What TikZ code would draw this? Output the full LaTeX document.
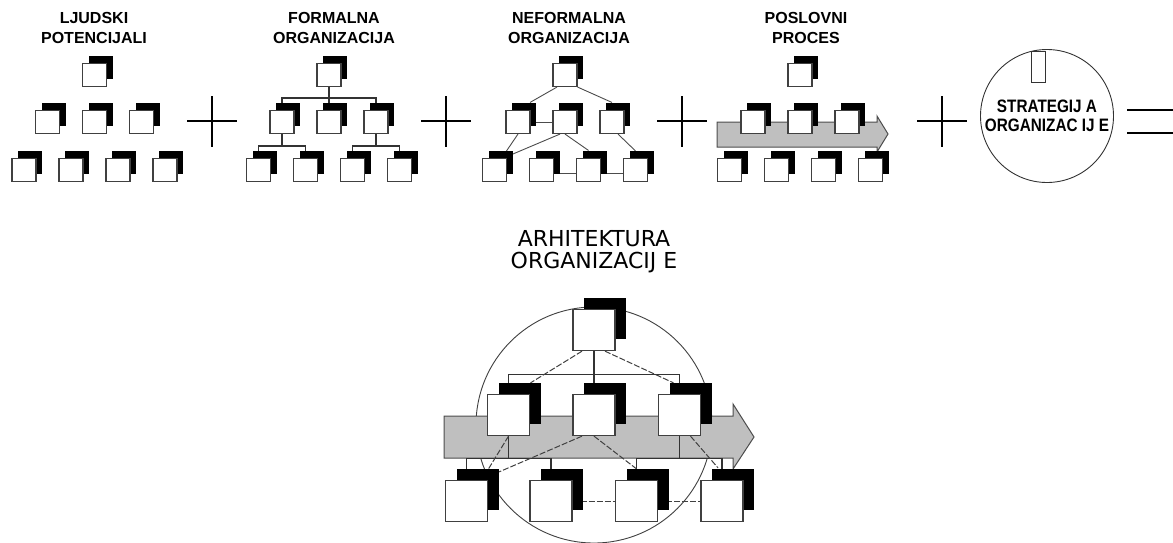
\documentclass[tikz,border=0pt]{standalone}
\usepackage{fontspec}
\usepackage{graphicx}
\setmainfont{Liberation Sans}
\newfontfamily\archfont{DejaVu Sans}
\usetikzlibrary{shadows,calc}
\pgfdeclarelayer{lcirc}
\pgfdeclarelayer{larrow}
\pgfdeclarelayer{llines}
\pgfsetlayers{lcirc,larrow,llines,main}
\tikzset{
 smallbox/.style={rectangle, draw=black!75, line width=1.1pt, fill=white, minimum width=24pt, minimum height=23pt, inner sep=0pt, general shadow={fill=black, shadow xshift=6pt, shadow yshift=7.5pt}},
 bigbox/.style={rectangle, draw=black!75, line width=1.3pt, fill=white, minimum width=42pt, minimum height=41pt, inner sep=0pt, general shadow={fill=black, shadow xshift=11pt, shadow yshift=11.5pt}},
 formal/.style={line width=1.2pt, draw=black!80},
 informal/.style={line width=0.9pt, draw=black!70},
 infdash/.style={line width=1pt, draw=black!75, dash pattern=on 6pt off 2pt},
 plussign/.style={line width=2.4pt},
 lab/.style={align=center, inner sep=0pt, font=\fontsize{16}{20}\selectfont\bfseries},
 procarrow/.style={fill=black!25, draw=black!70, line width=1pt},
}
\newcommand\boxgroup[2]{%
 \node[smallbox] (#1t) at (#2+94.5,75) {};
 \node[smallbox] (#1m1) at (#2+47.5,122) {};
 \node[smallbox] (#1m2) at (#2+94.5,122) {};
 \node[smallbox] (#1m3) at (#2+141.5,122) {};
 \node[smallbox] (#1b1) at (#2+24,170) {};
 \node[smallbox] (#1b2) at (#2+71,170) {};
 \node[smallbox] (#1b3) at (#2+118,170) {};
 \node[smallbox] (#1b4) at (#2+165,170) {};
}
\begin{document}
\begin{tikzpicture}[x=1pt,y=-1pt]
\useasboundingbox (0,0) rectangle (1173,542);
% top labels
\node[lab] (lab1) at (94,28) {LJUDSKI\\POTENCIJALI};
\node[lab] (lab2) at (334,28) {FORMALNA\\ORGANIZACIJA};
\node[lab] (lab3) at (569,28) {NEFORMALNA\\ORGANIZACIJA};
\node[lab] (lab4) at (806,28) {POSLOVNI\\PROCES};
% groups
\boxgroup{a}{0}
\boxgroup{b}{234.5}
\boxgroup{c}{470.5}
\boxgroup{d}{705.5}
% plus and equals
\draw[plussign] (187,121) -- (237,121) (212,96) -- (212,147);
\draw[plussign] (421,121) -- (471,121) (446,96) -- (446,147);
\draw[plussign] (657,121) -- (707,121) (682,96) -- (682,147);
\draw[plussign] (917,121) -- (967,121) (942,96) -- (942,147);
\draw[line width=2.2pt] (1127,110) -- (1173,110) (1127,133) -- (1173,133);
% strategy circle
\node[circle, draw=black!80, line width=0.9pt, minimum size=133pt, inner sep=0pt, align=center, font=\fontsize{18}{19.5}\selectfont\bfseries] (strat) at (1047,116) {\scalebox{0.85}[1]{STRATEGIJ A}\\\scalebox{0.85}[1]{ORGANIZAC IJ E}};
\node[draw=black!80, line width=1pt, fill=white, minimum width=14pt, minimum height=31pt, inner sep=0pt] (glyph) at (1038,66.5) {};
% title of bottom
\node[align=center, inner sep=0pt, font=\archfont\fontsize{22}{22}\selectfont] (arch) at (594,252) {ARHITEKTURA\\ORGANIZACIJ E};
% big boxes
\node[bigbox] (T) at (594,330) {};
\node[bigbox] (M1) at (508.5,415) {};
\node[bigbox] (M2) at (594,415) {};
\node[bigbox] (M3) at (679.5,415) {};
\node[bigbox] (B1) at (466.5,501) {};
\node[bigbox] (B2) at (551,501) {};
\node[bigbox] (B3) at (636.5,501) {};
\node[bigbox] (B4) at (722,501) {};
\begin{pgfonlayer}{lcirc}
\node[circle, draw=black!75, line width=0.9pt, minimum size=236pt, inner sep=0pt] (bigc) at (594,425) {};
\end{pgfonlayer}
\begin{pgfonlayer}{larrow}
\path[procarrow] (717,122) -- (877,122) -- (877,116) -- (888,134) -- (877,152) -- (877,147) -- (717,147) -- cycle;
\path[procarrow] (444,416) -- (733,416) -- (733,404) -- (754,437) -- (733,469) -- (733,458) -- (444,458) -- cycle;
\end{pgfonlayer}
\begin{pgfonlayer}{llines}
% formal organisation (group b)
\draw[formal] (bt.south) -- ++(0,11) -| (bm1.north);
\draw[formal] (bt.south) -- ++(0,11) -| (bm3.north);
\draw[formal] (bt.south) -- (bm2.north);
\draw[formal] (bm1.south) -- ++(0,12) -| (bb1.north);
\draw[formal] (bm1.south) -- ++(0,12) -| (bb2.north);
\draw[formal] (bm3.south) -- ++(0,12) -| (bb3.north);
\draw[formal] (bm3.south) -- ++(0,12) -| (bb4.north);
% informal organisation (group c)
\draw[informal] ($(ct.south)+(-8,0)$) -- ($(cm1.north)+(12,-7.5)$);
\draw[informal] (ct.south east) -- ($(cm3.north)+(0,-7.5)$);
\draw[informal] (cm1.east) -- (cm2.west);
\draw[informal] (cm1.south) -- ($(cb1.north)+(12,-7)$);
\draw[informal] ($(cm2.south)+(-5,0)$) -- ($(cb1.north east)+(6,-4)$);
\draw[informal] (cm2.south) -- ($(cb3.north)+(0,-7.5)$);
\draw[informal] ($(cm3.south)+(6,0)$) -- ($(cb4.north)+(0,-7)$);
\draw[informal] ($(cb2.east)+(0,3)$) -- ($(cb3.west)+(0,3)$);
\draw[informal] ($(cb3.east)+(0,3)$) -- ($(cb4.west)+(0,3)$);
% big diagram formal
\draw[formal] (T.south) -- ++(0,23) -| (M1.north);
\draw[formal] (T.south) -- ++(0,23) -| (M3.north);
\draw[formal] (T.south) -- (M2.north);
\draw[formal] (M1.south) -- ++(0,22) -| (B1.north);
\draw[formal] (M1.south) -- ++(0,22) -| (B2.north);
\draw[formal] (M3.south) -- ++(0,22) -| (B3.north);
\draw[formal] (M3.south) -- ++(0,22) -| (B4.north);
% big diagram informal
\draw[infdash] ($(T.south)+(-12,0)$) -- ($(M1.north)+(22,-11)$);
\draw[infdash] ($(T.south)+(11,0)$) -- ($(M3.north)+(-6,-11)$);
\draw[infdash] (M1.south) -- ($(B1.north)+(22,-11)$);
\draw[infdash] ($(M2.south)+(-12,0)$) -- ($(B1.north east)+(11,-8)$);
\draw[infdash] (M2.south) -- ($(B3.north)+(0,-11)$);
\draw[infdash] ($(M3.south)+(11,0)$) -- ($(B4.north)+(-4,-12)$);
\draw[infdash] (B2.east) -- (B3.west);
\draw[infdash] (B3.east) -- (B4.west);
\end{pgfonlayer}
\end{tikzpicture}
\end{document}
